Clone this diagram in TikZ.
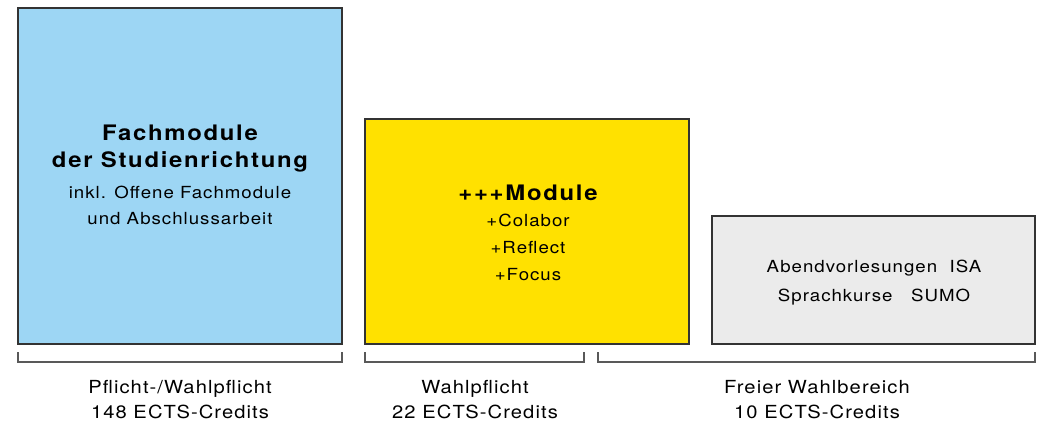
\documentclass[tikz,border=0pt]{standalone}
\usepackage{fontspec}
\setmainfont{TeX Gyre Heros}[FakeStretch=1.12,LetterSpace=6,BoldFeatures={FakeStretch=1.12,LetterSpace=8}]
\begin{document}
\begin{tikzpicture}[x=0.75pt,y=-0.75pt,
  box/.style={draw=black!80,line width=0.8pt},
  brk/.style={draw=black!65,line width=0.9pt},
  lbl/.style={align=center,font=\fontsize{13.5pt}{18.75pt}\selectfont,inner sep=0pt},
  bold/.style={align=center,inner sep=0pt,font=\fontsize{16pt}{20.25pt}\selectfont\bfseries},
  txt/.style={align=center,inner sep=0pt,font=\fontsize{12.5pt}{#1}\selectfont},
  txt/.default=20.25pt]
\definecolor{cblue}{HTML}{9DD6F4}
\definecolor{cyellow}{HTML}{FFE100}
\definecolor{cgray}{HTML}{EBEBEB}
\useasboundingbox (0,0) rectangle (1038,424);
% boxes
\path[box,fill=cblue] (18,8) rectangle (342,344);
\node (blue) at (180,176) {};
\path[box,fill=cyellow] (365,119) rectangle (689,344);
\node (yellow) at (527,232) {};
\path[box,fill=cgray] (712,216) rectangle (1035,344);
\node (gray) at (873,280) {};
% texts
\node[bold] (t1) at (180,148.5) {Fachmodule\\der Studienrichtung};
\node[txt=19.5pt] (t2) at (180,205) {inkl. Offene Fachmodule\\und Abschlussarbeit};
\node[bold] (t3) at (528,193) {+++Module};
\node[txt] (t4) at (528,247) {+Colabor\\+Reflect\\+Focus};
\node[txt=21.75pt] (t5) at (874,282.5) {Abendvorlesungen~~ISA\\Sprachkurse~~~SUMO};
% brackets
\coordinate (b1a) at (18,352); \coordinate (b1b) at (342,352);
\coordinate (b2a) at (365,352); \coordinate (b2b) at (584,352);
\coordinate (b3a) at (598,352); \coordinate (b3b) at (1035,352);
\draw[brk] (b1a) -- ++(0,10) -| (b1b);
\draw[brk] (b2a) -- ++(0,10) -| (b2b);
\draw[brk] (b3a) -- ++(0,10) -| (b3b);
% labels
\node[lbl] (l1) at (180,400) {Pflicht-/Wahlpflicht\\148 ECTS-Credits};
\node[lbl] (l2) at (475,400) {Wahlpflicht\\22 ECTS-Credits};
\node[lbl] (l3) at (817,400) {Freier Wahlbereich\\10 ECTS-Credits};
\end{tikzpicture}
\end{document}
